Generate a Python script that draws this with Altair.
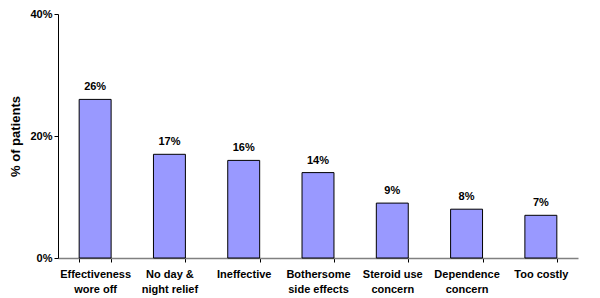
import altair as alt
import pandas as pd

categories = ["Effectiveness|wore off", "No day &|night relief", "Ineffective",
              "Bothersome|side effects", "Steroid use|concern", "Dependence|concern",
              "Too costly"]
values = [26, 17, 16, 14, 9, 8, 7]
labels = ["26%", "17%", "16%", "14%", "9%", "8%", "7%"]

df = pd.DataFrame({"cat": categories, "val": values, "lab": labels})

FONT = "Liberation Sans"

x = alt.X("cat:N", sort=categories, title=None,
          scale=alt.Scale(paddingInner=0.57, paddingOuter=0.285),
          axis=alt.Axis(labelExpr="split(datum.label, '|')", labelAngle=0,
                        labelFont=FONT, labelFontSize=11, labelFontWeight="bold",
                        labelColor="black", labelPadding=6, labelLineHeight=15,
                        domainColor="#808080", domainWidth=1.5,
                        ticks=True, tickBand="extent", tickColor="black", tickSize=4,
                        grid=False))

bars = alt.Chart(df).mark_bar(color="#9999FF", stroke="black", strokeWidth=1).encode(
    x=x,
    y=alt.Y("val:Q", title="% of patients",
            scale=alt.Scale(domain=[0, 40]),
            axis=alt.Axis(values=[0, 20, 40], labelExpr="datum.value + '%'",
                          labelFont=FONT, labelFontSize=11, labelFontWeight="bold",
                          labelColor="black", labelPadding=2,
                          titleFont=FONT, titleFontSize=13, titleFontWeight="bold",
                          titleColor="black", titlePadding=7,
                          domainColor="black", tickColor="black", tickSize=4,
                          grid=False)),
)

text = alt.Chart(df).mark_text(font=FONT, fontSize=11, fontWeight="bold",
                               color="black", baseline="bottom", dy=-7).encode(
    x=alt.X("cat:N", sort=categories),
    y=alt.Y("val:Q"),
    text="lab:N",
)

chart = (bars + text).properties(
    width=520, height=244,
    background="white",
    autosize=alt.AutoSizeParams(type="none"),
    padding={"left": 50, "top": 6, "right": 14, "bottom": 38},
).configure_view(stroke=None)

chart.save("out.html", embed_options={"renderer": "svg", "actions": False})
